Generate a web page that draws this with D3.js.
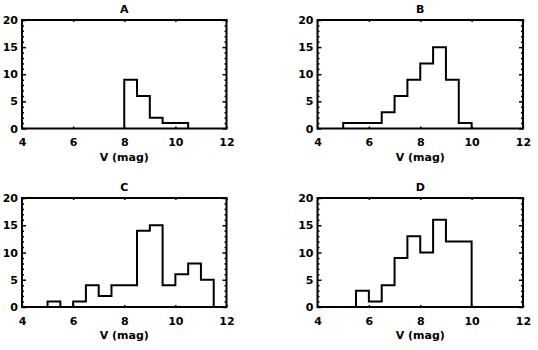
<!DOCTYPE html>
<html lang="en">
<head>
<meta charset="UTF-8">
<title>V histograms</title>
<script src="https://cdn.jsdelivr.net/npm/d3@7/dist/d3.min.js"></script>
<style>
    body { margin: 0; background: #fff; }
    text { font: bold 11px "DejaVu Sans", sans-serif; fill: #000; }
    .axis .domain { display: none; }
    .axis line { stroke: #000; stroke-width: 1.5; }
</style>
</head>
<body>
<script>
    // panel titles and histogram data (bin width 0.5 mag)
    var panelNames = ["A", "B", "C", "D"];
    var binStarts = [8.0, 5.0, 5.0, 5.5];
    var countsA = [9, 6, 2, 1, 1];
    var countsB = [1, 1, 1, 3, 6, 9, 12, 15, 9, 1];
    var countsC = [1, 0, 1, 4, 2, 4, 4, 14, 15, 4, 6, 8, 5];
    var countsD = [3, 1, 4, 9, 13, 10, 16, 12, 12];
    var allCounts = [countsA, countsB, countsC, countsD];
    var binWidth = 0.5;
    var xTicks = [4, 6, 8, 10, 12];
    var yTicks = [0, 5, 10, 15, 20];
    var xLabel = "V (mag)";

    var W = 538, H = 350;
    var boxes = [
        {left: 22, top: 20, right: 226.5, bottom: 128.5},
        {left: 317.5, top: 20, right: 523, bottom: 128.5},
        {left: 22, top: 198, right: 226.5, bottom: 307},
        {left: 317.5, top: 198, right: 523, bottom: 307}
    ];

    var svg = d3.select("body").append("svg")
        .attr("width", W)
        .attr("height", H);

    panelNames.forEach(function (name, i) {
        var b = boxes[i],
            w = b.right - b.left,
            h = b.bottom - b.top;

        var x = d3.scaleLinear().domain([4, 12]).range([0, w]);
        var y = d3.scaleLinear().domain([0, 20]).range([h, 0]);

        var g = svg.append("g")
            .attr("transform", "translate(" + b.left + "," + b.top + ")");

        // minor y ticks
        var minor = d3.range(0, 21).filter(function (v) { return v % 5 !== 0; });
        g.append("g").attr("class", "axis")
            .call(d3.axisLeft(y).tickValues(minor).tickSize(-2).tickFormat(""));
        g.append("g").attr("class", "axis")
            .attr("transform", "translate(" + w + ",0)")
            .call(d3.axisRight(y).tickValues(minor).tickSize(-2).tickFormat(""));

        // major y ticks
        g.append("g").attr("class", "axis")
            .call(d3.axisLeft(y).tickValues(yTicks).tickSize(-4).tickPadding(4));
        g.append("g").attr("class", "axis")
            .attr("transform", "translate(" + w + ",0)")
            .call(d3.axisRight(y).tickValues(yTicks).tickSize(-4).tickFormat(""));

        // x ticks
        g.append("g").attr("class", "axis")
            .attr("transform", "translate(0," + h + ")")
            .call(d3.axisBottom(x).tickValues(xTicks).tickSize(-2).tickPadding(10));
        g.append("g").attr("class", "axis")
            .call(d3.axisTop(x).tickValues(xTicks).tickSize(-2).tickFormat(""));

        // histogram outline
        var counts = allCounts[i], x0 = binStarts[i];
        var pts = [[x0, 0]];
        counts.forEach(function (c, k) { pts.push([x0 + k * binWidth, c]); });
        var xEnd = x0 + counts.length * binWidth;
        pts.push([xEnd, counts[counts.length - 1]]);
        pts.push([xEnd, 0]);

        var line = d3.line()
            .x(function (d) { return x(d[0]); })
            .y(function (d) { return y(d[1]); })
            .curve(d3.curveStepAfter);

        g.append("path")
            .attr("d", line(pts))
            .attr("fill", "none")
            .attr("stroke", "#000")
            .attr("stroke-width", 2);

        // frame
        g.append("rect")
            .attr("width", w)
            .attr("height", h)
            .attr("fill", "none")
            .attr("stroke", "#000")
            .attr("stroke-width", 2);

        g.append("text")
            .attr("x", w / 2)
            .attr("y", -7)
            .attr("text-anchor", "middle")
            .text(name);

        g.append("text")
            .attr("x", w / 2)
            .attr("y", h + 32)
            .attr("text-anchor", "middle")
            .text(xLabel);
    });
</script>
</body>
</html>
